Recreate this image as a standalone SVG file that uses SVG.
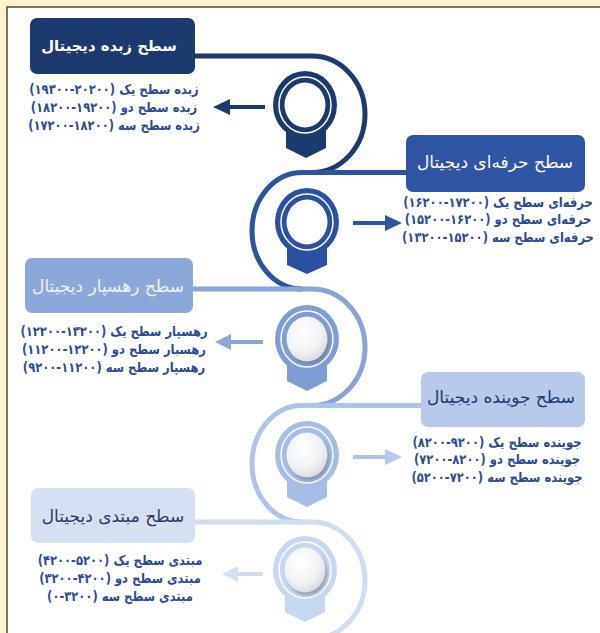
<svg xmlns="http://www.w3.org/2000/svg" width="600" height="633" viewBox="0 0 600 633">
<style>
.t{font-family:'DejaVu Sans',sans-serif;direction:rtl;text-anchor:middle;dominant-baseline:central}
.ttl{font-size:17px}
.ttb{font-size:14.8px;font-weight:bold}
.ln{font-size:13.6px;font-weight:bold;fill:#2C4A9A}
.c1{fill:#1C3A70}.c2{fill:#2E55A3}.c3{fill:#8EA7DB}.c4{fill:#B8C9EB}.c5{fill:#D5E0F3}
.r1{fill:#1C3A70}.r2{fill:#2A52A2}.r3{fill:#7E9CD6}.r4{fill:#A6BDE7}.r5{fill:#C8D7F0}
.s1{stroke:#1C3A70}.s2{stroke:#2C54A4}.s3{stroke:#8AA4DA}.s4{stroke:#AFC3E9}.s5{stroke:#D0DCF2}
.curve{fill:none;stroke-width:5}
.arr{stroke-width:4;fill:none}
.wr{fill:none;stroke:#fff;stroke-width:1.5}
</style>
<defs>
<radialGradient id="sph" cx="40%" cy="35%" r="70%">
<stop offset="0" stop-color="#ffffff"/>
<stop offset="0.6" stop-color="#f3f4f6"/>
<stop offset="1" stop-color="#d6d9df"/>
</radialGradient>
<filter id="blur" x="-30%" y="-30%" width="160%" height="160%"><feGaussianBlur stdDeviation="1.6"/></filter>
</defs>
<rect x="0" y="0" width="600" height="633" fill="#FDF3CE"/>
<rect x="7" y="7" width="600" height="640" fill="#ffffff" stroke="#4a4a42" stroke-width="1.5"/>

<g id="connectors">
<path class="curve s1" d="M190,56 H312 A53,58.25 0 0 1 312,172.5"/>
<path class="curve s2" d="M410,172.5 H302 A50,58.25 0 0 0 302,289"/>
<path class="curve s3" d="M190,289 H312 A53,58.25 0 0 1 312,405.5"/>
<path class="curve s4" d="M425,405.5 H302 A50,58.25 0 0 0 302,522"/>
<path class="curve s5" d="M190,522 H312 A53,58.25 0 0 1 312,638.5"/>
<line class="arr s1" x1="265" y1="107" x2="226" y2="107"/>
<polygon class="r1" points="213,107 230,99 230,115"/>
<line class="arr s2" x1="353" y1="223" x2="388" y2="223"/>
<polygon class="c2" points="402,223 385,215 385,231"/>
<line class="arr s3" x1="263" y1="342" x2="228" y2="342"/>
<polygon class="c3" points="215,342 231,334 231,350"/>
<line class="arr s4" x1="353" y1="457" x2="388" y2="457"/>
<polygon class="c4" points="402,457 385,449 385,465"/>
<line class="arr s5" x1="263" y1="574" x2="234" y2="574"/>
<polygon class="c5" points="222,574 238,566 238,582"/>
</g>

<g id="node1">
<rect class="c1" x="30" y="18" width="165" height="56" rx="7"/>
<text class="t ttb" x="109" y="45" fill="#ffffff">سطح زبده دیجیتال</text>
<text class="t ln" transform="translate(114,89) scale(0.85,1)">زبده سطح یک (&#x200E;۱۹۳۰۰-۲۰۲۰۰)</text>
<text class="t ln" transform="translate(114,107) scale(0.85,1)">زبده سطح دو (&#x200E;۱۸۲۰۰-۱۹۲۰۰)</text>
<text class="t ln" transform="translate(114,125) scale(0.85,1)">زبده سطح سه (&#x200E;۱۷۲۰۰-۱۸۲۰۰)</text>
</g>
<g id="marker1">
<polygon class="r1" points="286,125 326,125 326,148 306,158 286,148"/>
<ellipse class="r1" cx="305" cy="105" rx="32" ry="34"/>
<ellipse class="wr" cx="305" cy="105" rx="26" ry="28"/>
<ellipse cx="305" cy="105" rx="20.5" ry="22.5" fill="#ffffff"/>
</g>

<g id="node2">
<rect class="c2" x="406" y="135" width="179" height="57" rx="7"/>
<text class="t ttl" x="495" y="162" fill="#ffffff">سطح حرفه‌ای دیجیتال</text>
<text class="t ln" transform="translate(498,202) scale(0.85,1)">حرفه‌ای سطح یک (&#x200E;۱۶۲۰۰-۱۷۲۰۰)</text>
<text class="t ln" transform="translate(498,219.5) scale(0.85,1)">حرفه‌ای سطح دو (&#x200E;۱۵۲۰۰-۱۶۲۰۰)</text>
<text class="t ln" transform="translate(498,237) scale(0.85,1)">حرفه‌ای سطح سه (&#x200E;۱۳۲۰۰-۱۵۲۰۰)</text>
</g>
<g id="marker2">
<polygon class="r2" points="287,242 327,242 327,265 307,274 287,265"/>
<ellipse class="r2" cx="307" cy="222" rx="32" ry="34"/>
<ellipse class="wr" cx="307" cy="222" rx="26" ry="28"/>
<ellipse cx="307" cy="222" rx="20.5" ry="22.5" fill="#ffffff"/>
</g>

<g id="node3">
<rect class="c3" x="25" y="258" width="168" height="55" rx="7"/>
<text class="t ttl" x="108" y="286" fill="#EEF2FA">سطح رهسپار دیجیتال</text>
<text class="t ln" transform="translate(114,331) scale(0.85,1)">رهسپار سطح یک (&#x200E;۱۲۲۰۰-۱۳۲۰۰)</text>
<text class="t ln" transform="translate(114,349) scale(0.85,1)">رهسبار سطح دو (&#x200E;۱۱۲۰۰-۱۲۲۰۰)</text>
<text class="t ln" transform="translate(114,367) scale(0.85,1)">رهسپار سطح سه (&#x200E;۹۲۰۰-۱۱۲۰۰)</text>
</g>
<g id="marker3">
<polygon class="r3" points="287,359 327,359 327,381 307,391 287,381"/>
<ellipse class="r3" cx="307" cy="339" rx="32" ry="34"/>
<ellipse class="wr" cx="307" cy="339" rx="26" ry="28"/>
<ellipse cx="309" cy="342" rx="20.5" ry="22.5" fill="#6d7688" opacity="0.55" filter="url(#blur)"/>
<ellipse cx="307" cy="339" rx="20.5" ry="22.5" fill="url(#sph)"/>
</g>

<g id="node4">
<rect class="c4" x="421" y="372" width="164" height="55" rx="7"/>
<text class="t ttl" x="501" y="397" fill="#1E3A6E">سطح جوینده دیجیتال</text>
<text class="t ln" transform="translate(497,442) scale(0.85,1)">جوینده سطح یک (&#x200E;۸۲۰۰-۹۲۰۰)</text>
<text class="t ln" transform="translate(497,459.5) scale(0.85,1)">جوینده سطح دو (&#x200E;۷۲۰۰-۸۲۰۰)</text>
<text class="t ln" transform="translate(497,477) scale(0.85,1)">جوینده سطح سه (&#x200E;۵۲۰۰-۷۲۰۰)</text>
</g>
<g id="marker4">
<polygon class="r4" points="287,475 327,475 327,497 307,507 287,497"/>
<ellipse class="r4" cx="307" cy="455" rx="32" ry="34"/>
<ellipse class="wr" cx="307" cy="455" rx="26" ry="28"/>
<ellipse cx="309" cy="458" rx="20.5" ry="22.5" fill="#6d7688" opacity="0.55" filter="url(#blur)"/>
<ellipse cx="307" cy="455" rx="20.5" ry="22.5" fill="url(#sph)"/>
</g>

<g id="node5">
<rect class="c5" x="31" y="488" width="164" height="55" rx="7"/>
<text class="t ttl" x="113" y="516" fill="#2E3B5E">سطح مبتدی دیجیتال</text>
<text class="t ln" transform="translate(120,560) scale(0.85,1)">مبتدی سطح یک (&#x200E;۴۲۰۰-۵۲۰۰)</text>
<text class="t ln" transform="translate(120,578) scale(0.85,1)">مبتدی سطح دو (&#x200E;۳۲۰۰-۴۲۰۰)</text>
<text class="t ln" transform="translate(120,596) scale(0.85,1)">مبتدی سطح سه (&#x200E;۰-۳۲۰۰)</text>
</g>
<g id="marker5">
<polygon class="r5" points="285,590 325,590 325,612 305,622 285,612"/>
<ellipse class="r5" cx="305" cy="570" rx="32" ry="34"/>
<ellipse class="wr" cx="305" cy="570" rx="26" ry="28"/>
<ellipse cx="307" cy="573" rx="20.5" ry="22.5" fill="#6d7688" opacity="0.55" filter="url(#blur)"/>
<ellipse cx="305" cy="570" rx="20.5" ry="22.5" fill="url(#sph)"/>
</g>
</svg>
